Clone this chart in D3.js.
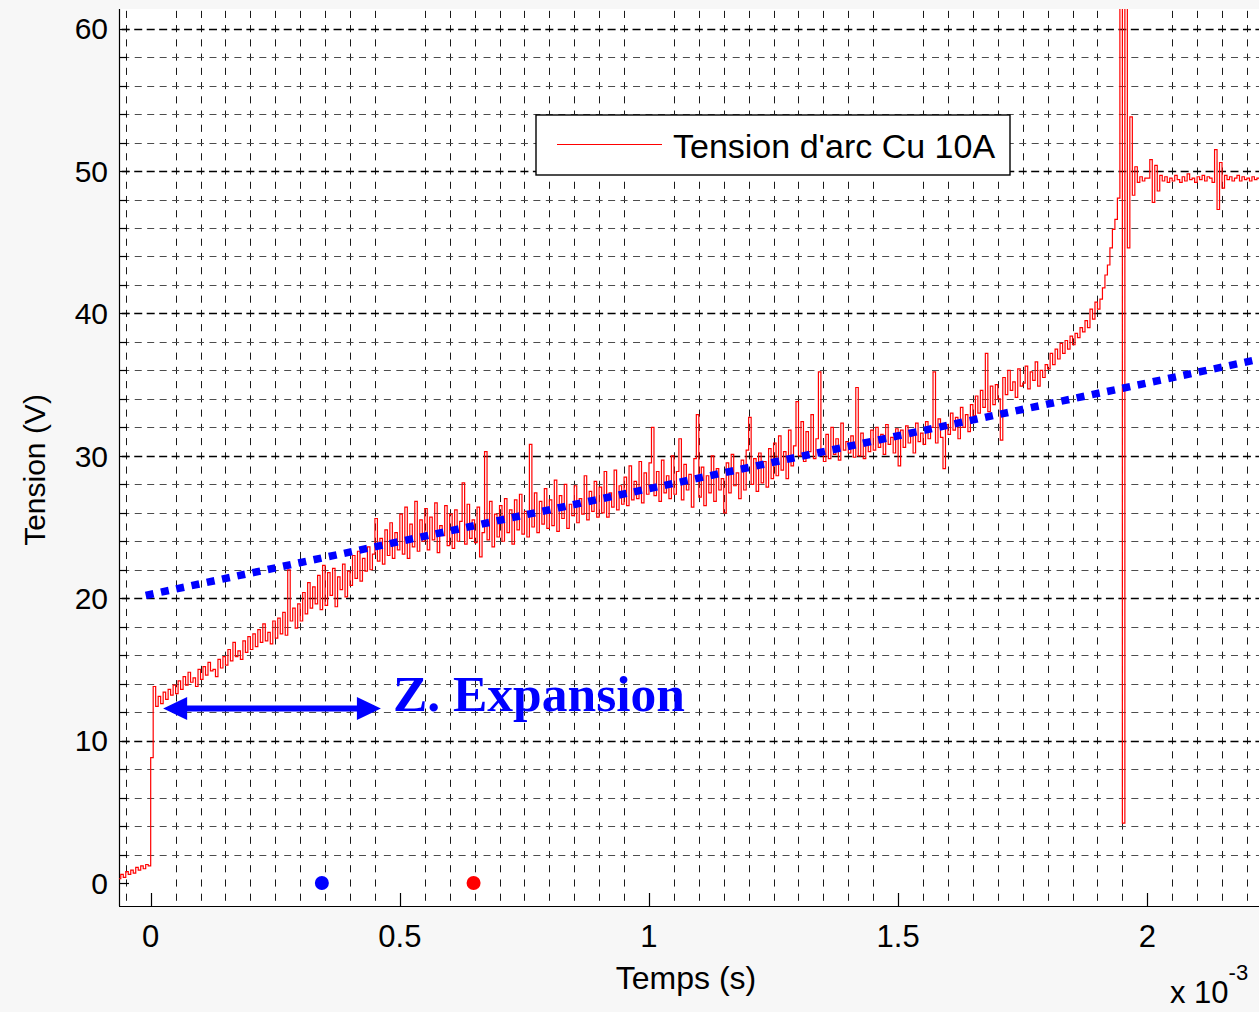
<!DOCTYPE html>
<html>
<head>
<meta charset="utf-8">
<script src="https://cdn.jsdelivr.net/npm/d3@7"></script>
<style>
  body { margin: 0; background: #f7f7f7; }
  svg { display: block; font-family: 'Liberation Sans', Arial, sans-serif; }
</style>
</head>
<body>
<div id="chart_arc_cu10a"></div>
<script>

// Time is in ms (the axis shows "x 10^-3" s), voltage in V
const sampleStep = 0.005;

// before the contacts open (starts at -0.065 ms)
const preTrigger = [ 0.3, 0.6, 0.4, 0.8, 0.6, 0.9, 0.7, 1.1, 0.9, 1.2, 1.0, 1.3, 1.2 ];

// 0 -> 0.495 ms
const arcRise = [
  8.8, 13.8, 12.4, 13.1, 12.6, 13.4, 12.9, 13.6, 13.2, 13.9,
  13.3, 14.2, 13.6, 14.5, 13.9, 14.8, 14.1, 14.4, 13.8, 15.0,
  14.3, 15.2, 14.6, 15.5, 14.9, 15.0, 14.5, 15.7, 15.1, 15.9,
  15.3, 16.4, 15.6, 16.9, 15.9, 16.3, 15.7, 17.0, 16.2, 17.3,
  16.4, 17.5, 16.6, 17.8, 16.9, 18.2, 17.0, 17.6, 16.8, 18.4,
  17.2, 18.6, 17.5, 19.0, 17.4, 22.0, 18.4, 19.3, 17.9, 19.6,
  18.4, 20.4, 18.9, 21.1, 19.3, 20.8, 19.6, 21.6, 19.2, 22.3,
  19.5, 21.8, 20.2, 22.1, 19.4, 21.5, 20.6, 22.4, 20.1, 21.9,
  20.9, 23.0, 21.4, 23.3, 21.2, 22.8, 21.9, 23.6, 22.0, 23.1,
  25.6, 22.6, 24.2, 22.4, 24.8, 23.0, 25.3, 22.8, 24.6, 23.4
];

// 0.5 -> 0.995 ms
const arcMid = [
  25.9, 23.1, 26.4, 22.8, 25.2, 23.6, 26.8, 23.3, 25.5, 24.0,
  26.3, 23.4, 25.7, 24.1, 26.7, 23.2, 25.1, 24.4, 26.5, 23.7,
  25.9, 23.5, 26.2, 24.0, 25.4, 28.1, 23.8, 26.6, 24.2, 25.5,
  23.9, 26.4, 22.9, 24.6, 30.3, 24.1, 26.8, 23.6, 25.9, 24.3,
  26.5, 24.0, 27.0, 24.6, 26.2, 23.8, 26.9, 24.8, 27.3, 24.5,
  26.1, 24.3, 30.8, 25.0, 27.4, 24.6, 26.8, 25.2, 27.7, 24.9,
  26.9, 25.1, 28.3, 24.7, 27.2, 25.6, 28.0, 24.9, 26.6, 25.8,
  27.9, 25.3, 27.0, 25.9, 28.6, 25.5, 27.5, 26.1, 28.2, 25.7,
  27.8, 26.0, 28.9, 25.7, 27.4, 26.4, 29.0, 26.2, 27.9, 26.6,
  28.5, 26.5, 29.3, 26.9, 28.2, 27.0, 29.6, 26.7, 28.8, 27.3
];

// 1.0 -> 1.495 ms
const arcLate = [
  29.5, 32.0, 27.2, 28.9, 26.8, 29.7, 27.4, 28.6, 27.0, 30.0,
  27.3, 28.9, 31.2, 26.9, 29.4, 27.6, 28.7, 26.4, 29.8, 32.9,
  27.1, 29.2, 26.5, 28.6, 27.4, 30.0, 26.8, 29.1, 27.6, 28.4,
  26.0, 29.5, 27.4, 30.1, 27.9, 28.8, 27.0, 29.7, 27.6, 30.4,
  32.7, 28.0, 29.8, 27.5, 30.2, 28.1, 29.6, 27.8, 30.5, 28.4,
  30.9, 28.6, 31.4, 29.0, 30.3, 28.4, 31.8, 29.3, 30.7, 33.8,
  30.0, 32.4, 29.6, 31.7, 30.3, 32.9, 29.8, 31.2, 35.9, 30.4,
  29.6, 31.5, 29.8, 32.0, 30.1, 31.2, 29.7, 32.3, 30.4, 31.0,
  30.2, 31.4, 29.9, 34.8, 30.0, 31.6, 29.8, 31.0, 30.3, 31.8,
  30.4, 32.0, 30.6, 31.5, 30.1, 32.2, 30.8, 31.3, 30.2, 31.9
];

// 1.5 -> 1.945 ms
const arcEnd = [
  29.3, 31.8, 30.6, 32.1, 30.9, 31.4, 30.2, 32.3, 31.0, 31.6,
  30.8, 32.4, 31.2, 32.0, 35.9, 30.9, 32.6, 31.3, 29.1, 32.2,
  31.5, 33.0, 31.8, 32.7, 31.2, 33.4, 32.0, 32.9, 31.7, 33.6,
  32.8, 34.2, 33.0, 34.6, 33.4, 37.2, 33.1, 34.9, 33.6, 35.0,
  34.0, 31.1, 35.5, 34.3, 36.0, 34.6, 35.2, 34.1, 36.1, 34.9,
  35.1, 36.3, 34.7, 35.9, 35.3, 36.6, 34.9, 36.0, 35.5, 36.4,
  36.1, 37.2, 36.4, 37.5, 36.8, 37.9, 37.2, 38.1, 37.5, 38.4,
  37.8, 38.6, 38.3, 39.0, 38.7, 39.5, 39.0, 40.3, 39.6, 40.8,
  40.3, 41.0, 41.8, 42.7, 43.4, 44.6, 45.9, 46.6, 48.1, 66.0
];

// 1.95 -> 2.225 ms
const afterBreak = [
  4.2, 66.0, 44.6, 53.8, 48.3, 50.3, 49.2, 49.6, 49.3, 49.5,
  49.5, 50.8, 47.8, 50.4, 48.6, 49.7, 49.3, 49.6, 49.2, 49.5,
  49.3, 49.7, 49.4, 49.2, 49.6, 49.3, 49.8, 49.4, 49.5, 49.2,
  49.6, 49.4, 49.7, 49.3, 49.6, 49.5, 49.2, 51.5, 47.3, 50.6,
  48.8, 49.7, 49.4, 49.6, 49.3, 49.5, 49.7, 49.3, 49.6, 49.4,
  49.5, 49.3, 49.6, 49.4, 49.5, 49.4
];

const segmentStarts = [ -0.065, 0, 0.5, 1.0, 1.5, 1.95 ];
const segmentValues = [ preTrigger, arcRise, arcMid, arcLate, arcEnd, afterBreak ];

// dotted linear trend (ms, V)
const fitTimes = [ -0.01, 2.24 ];
const fitVolts = [ 20.2, 36.9 ];

// "Z. Expansion" arrow span (ms) and level (V)
const arrowTimes = [ 0.025, 0.462 ];
const arrowVolt = 12.25;

// the two markers on the 0 V line
const markerTimes = [ 0.3435, 0.648 ];
const markerVolts = [ 0, 0 ];

const xTicks = [ 0, 0.5, 1, 1.5, 2 ];
const xTickLabels = [ '0', '0.5', '1', '1.5', '2' ];
const yTicks = [ 0, 10, 20, 30, 40, 50, 60 ];

const legendLabel = "Tension d'arc Cu 10A";
const xAxisTitle = 'Temps (s)';
const yAxisTitle = 'Tension (V)';

const figure_width = 1259;
const figure_height = 1012;

// plot box in page pixels (right side runs past the picture edge)
const plot = { left: 119, top: 9, right: 1262, bottom: 906 };

const svg = d3.select( 'div#chart_arc_cu10a' )
  .append( 'svg' )
    .attr( 'width', figure_width )
    .attr( 'height', figure_height );

const x = d3.scaleLinear()
  .domain( [ -0.0636, 2.2302 ] )
  .range( [ plot.left, plot.right ] );

const y = d3.scaleLinear()
  .domain( [ -1.615, 61.38 ] )
  .range( [ plot.bottom, plot.top ] );

svg.append( 'defs' ).append( 'clipPath' )
    .attr( 'id', 'plotclip' )
  .append( 'rect' )
    .attr( 'x', plot.left )
    .attr( 'y', plot.top )
    .attr( 'width', plot.right - plot.left )
    .attr( 'height', plot.bottom - plot.top );

svg.append( 'rect' )
  .attr( 'x', plot.left )
  .attr( 'y', plot.top )
  .attr( 'width', plot.right - plot.left )
  .attr( 'height', plot.bottom - plot.top )
  .attr( 'fill', '#ffffff' );

const grid = svg.append( 'g' ).attr( 'clip-path', 'url(#plotclip)' );

// minor vertical grid, every 0.05 ms but not on the labelled ticks
const vGrid = d3.range( -1, 45 ).filter( function( k ) { return k % 10 !== 0; } )
  .map( function( k ) { return k * 0.05; } );
const vDash = y( 0 ) - y( 0.5 );
grid.selectAll( 'line.vgrid' )
  .data( vGrid )
  .enter().append( 'line' )
    .attr( 'class', 'vgrid' )
    .attr( 'x1', function( d ) { return Math.round( x( d ) ) + 0.5; } )
    .attr( 'x2', function( d ) { return Math.round( x( d ) ) + 0.5; } )
    .attr( 'y1', y( 62.25 ) )
    .attr( 'y2', y( -1.75 ) )
    .attr( 'stroke', '#1a1a1a' )
    .attr( 'stroke-width', 1 )
    .attr( 'stroke-dasharray', vDash + ',' + vDash );

// horizontal grid: minor every 2 V (grey), major every 10 V (black)
const hPeriod = x( 0.025 ) - x( 0 );
const hMinor = d3.range( 2, 61, 2 ).filter( function( v ) { return v % 10 !== 0; } );
const hMajor = yTicks.filter( function( v ) { return v > 0; } );

grid.selectAll( 'line.hminor' )
  .data( hMinor )
  .enter().append( 'line' )
    .attr( 'class', 'hminor' )
    .attr( 'x1', x( -0.075 ) - 3.5 )
    .attr( 'x2', plot.right )
    .attr( 'y1', function( d ) { return Math.round( y( d ) ) + 0.5; } )
    .attr( 'y2', function( d ) { return Math.round( y( d ) ) + 0.5; } )
    .attr( 'stroke', '#4d4d4d' )
    .attr( 'stroke-width', 1 )
    .attr( 'stroke-dasharray', '7,' + ( hPeriod - 7 ) );

grid.selectAll( 'line.hmajor' )
  .data( hMajor )
  .enter().append( 'line' )
    .attr( 'class', 'hmajor' )
    .attr( 'x1', x( -0.075 ) - 4 )
    .attr( 'x2', plot.right )
    .attr( 'y1', function( d ) { return Math.round( y( d ) ) + 0.5; } )
    .attr( 'y2', function( d ) { return Math.round( y( d ) ) + 0.5; } )
    .attr( 'stroke', '#000000' )
    .attr( 'stroke-width', 1.6 )
    .attr( 'stroke-dasharray', '8,' + ( hPeriod - 8 ) );

// axes lines and ticks
const axes = svg.append( 'g' );
axes.append( 'line' )
  .attr( 'x1', plot.left + 0.5 ).attr( 'x2', plot.left + 0.5 )
  .attr( 'y1', plot.top ).attr( 'y2', plot.bottom )
  .attr( 'stroke', '#000' ).attr( 'stroke-width', 1.2 );
axes.append( 'line' )
  .attr( 'x1', plot.left ).attr( 'x2', figure_width )
  .attr( 'y1', plot.bottom + 0.5 ).attr( 'y2', plot.bottom + 0.5 )
  .attr( 'stroke', '#000' ).attr( 'stroke-width', 1.2 );

axes.selectAll( 'line.ytick' )
  .data( d3.range( 0, 61, 2 ) )
  .enter().append( 'line' )
    .attr( 'class', 'ytick' )
    .attr( 'x1', plot.left )
    .attr( 'x2', function( d ) { return plot.left + ( d % 10 === 0 ? 10 : 8 ); } )
    .attr( 'y1', function( d ) { return Math.round( y( d ) ) + 0.5; } )
    .attr( 'y2', function( d ) { return Math.round( y( d ) ) + 0.5; } )
    .attr( 'stroke', '#000' )
    .attr( 'stroke-width', 1.2 );

axes.selectAll( 'line.xtick' )
  .data( xTicks )
  .enter().append( 'line' )
    .attr( 'class', 'xtick' )
    .attr( 'x1', function( d ) { return Math.round( x( d ) ) + 0.5; } )
    .attr( 'x2', function( d ) { return Math.round( x( d ) ) + 0.5; } )
    .attr( 'y1', plot.bottom )
    .attr( 'y2', plot.bottom - 13 )
    .attr( 'stroke', '#000' )
    .attr( 'stroke-width', 1.2 );

axes.selectAll( 'text.ylabel' )
  .data( yTicks )
  .enter().append( 'text' )
    .attr( 'class', 'ylabel' )
    .attr( 'x', plot.left - 11 )
    .attr( 'y', function( d ) { return y( d ); } )
    .attr( 'dy', '0.36em' )
    .attr( 'text-anchor', 'end' )
    .attr( 'font-size', 30 )
    .text( function( d ) { return d; } );

axes.selectAll( 'text.xlabel' )
  .data( xTicks )
  .enter().append( 'text' )
    .attr( 'class', 'xlabel' )
    .attr( 'x', function( d ) { return x( d ); } )
    .attr( 'y', 947 )
    .attr( 'text-anchor', 'middle' )
    .attr( 'font-size', 31 )
    .text( function( d, i ) { return xTickLabels[ i ]; } );

svg.append( 'text' )
  .attr( 'x', 686 )
  .attr( 'y', 989 )
  .attr( 'text-anchor', 'middle' )
  .attr( 'font-size', 32 )
  .text( xAxisTitle );

svg.append( 'text' )
  .attr( 'transform', 'translate(45,470) rotate(-90)' )
  .attr( 'text-anchor', 'middle' )
  .attr( 'font-size', 30 )
  .text( yAxisTitle );

const expo = svg.append( 'text' )
  .attr( 'x', 1170 )
  .attr( 'y', 1003 )
  .attr( 'font-size', 31 );
expo.append( 'tspan' ).text( 'x 10' );
expo.append( 'tspan' ).attr( 'dy', -23 ).attr( 'font-size', 22 ).text( '-3' );

// build the signal from the segments
const signal = [];
segmentValues.forEach( function( values, s ) {
  values.forEach( function( v, i ) {
    signal.push( { t: segmentStarts[ s ] + i * sampleStep, v: v } );
  });
});

const marks = svg.append( 'g' ).attr( 'clip-path', 'url(#plotclip)' );

marks.append( 'path' )
  .datum( signal )
  .attr( 'fill', 'none' )
  .attr( 'stroke', '#ff0000' )
  .attr( 'stroke-width', 1.2 )
  .attr( 'd', d3.line()
    .curve( d3.curveStepAfter )
    .x( function( d ) { return x( d.t ); } )
    .y( function( d ) { return y( d.v ); } ) );

// dotted trend line
marks.append( 'path' )
  .datum( fitTimes.map( function( t, i ) { return { t: t, v: fitVolts[ i ] }; } ) )
  .attr( 'fill', 'none' )
  .attr( 'stroke', '#0000ff' )
  .attr( 'stroke-width', 7.5 )
  .attr( 'stroke-dasharray', '8,7.6' )
  .attr( 'd', d3.line()
    .x( function( d ) { return x( d.t ); } )
    .y( function( d ) { return y( d.v ); } ) );

// double arrow for the expansion zone
const ax0 = x( arrowTimes[ 0 ] ), ax1 = x( arrowTimes[ 1 ] ), ay = y( arrowVolt );
const headLen = 24, headHalf = 11.5, shaftHalf = 3;
svg.append( 'path' )
  .attr( 'fill', '#0000ff' )
  .attr( 'd', 'M' + ax0 + ',' + ay +
    'L' + ( ax0 + headLen ) + ',' + ( ay - headHalf ) +
    'L' + ( ax0 + headLen ) + ',' + ( ay - shaftHalf ) +
    'L' + ( ax1 - headLen ) + ',' + ( ay - shaftHalf ) +
    'L' + ( ax1 - headLen ) + ',' + ( ay - headHalf ) +
    'L' + ax1 + ',' + ay +
    'L' + ( ax1 - headLen ) + ',' + ( ay + headHalf ) +
    'L' + ( ax1 - headLen ) + ',' + ( ay + shaftHalf ) +
    'L' + ( ax0 + headLen ) + ',' + ( ay + shaftHalf ) +
    'L' + ( ax0 + headLen ) + ',' + ( ay + headHalf ) + 'Z' );

svg.append( 'text' )
  .attr( 'x', ax1 + 12 )
  .attr( 'y', ay + 2 )
  .attr( 'font-family', "'Liberation Serif', 'DejaVu Serif', serif" )
  .attr( 'font-weight', 'bold' )
  .attr( 'font-size', 51.5 )
  .attr( 'fill', '#0000ff' )
  .text( 'Z. Expansion' );

// the two coloured dots
const markerColors = [ '#0000ff', '#ff0000' ];
svg.selectAll( 'circle.marker' )
  .data( markerTimes )
  .enter().append( 'circle' )
    .attr( 'class', 'marker' )
    .attr( 'cx', function( d ) { return x( d ); } )
    .attr( 'cy', function( d, i ) { return y( markerVolts[ i ] ); } )
    .attr( 'r', 7 )
    .attr( 'fill', function( d, i ) { return markerColors[ i ]; } );

// legend
const legend = svg.append( 'g' ).attr( 'transform', 'translate(536,115)' );
legend.append( 'rect' )
  .attr( 'width', 474 )
  .attr( 'height', 60 )
  .attr( 'fill', '#ffffff' )
  .attr( 'stroke', '#000' )
  .attr( 'stroke-width', 1.4 );
legend.append( 'line' )
  .attr( 'x1', 21 ).attr( 'x2', 126 )
  .attr( 'y1', 29.5 ).attr( 'y2', 29.5 )
  .attr( 'stroke', '#ff0000' )
  .attr( 'stroke-width', 1.2 );
legend.append( 'text' )
  .attr( 'x', 137 )
  .attr( 'y', 43 )
  .attr( 'font-size', 34 )
  .text( legendLabel );

</script>
</body>
</html>
